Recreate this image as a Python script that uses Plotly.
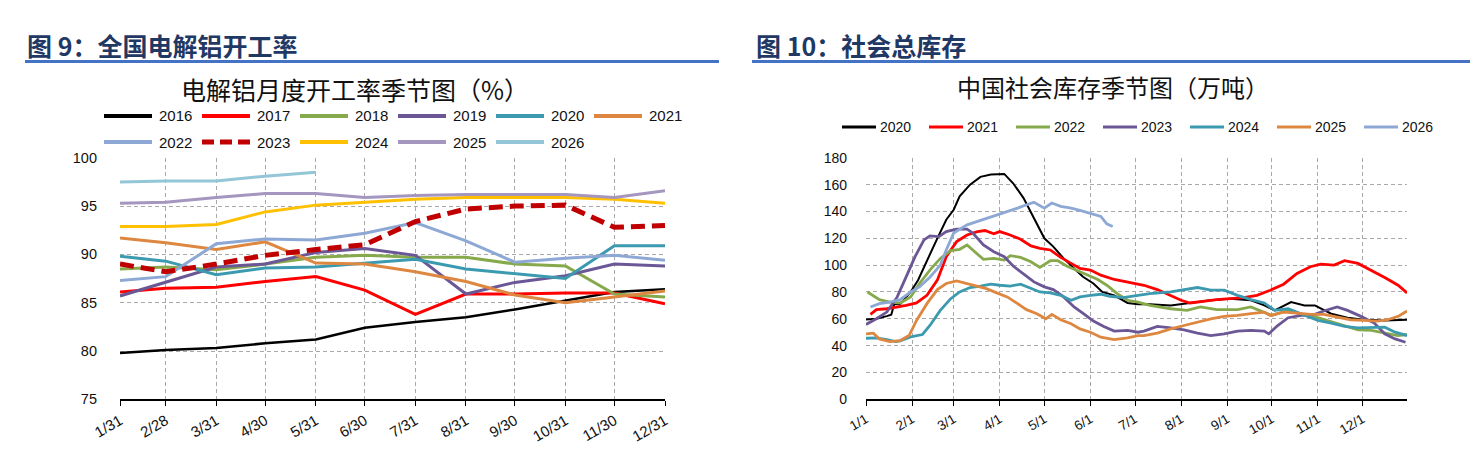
import plotly.graph_objects as go
import pandas as pd

W, H = 1470, 453

# ---------------- Left chart: monthly utilisation rate (%) ----------------
month_end_dates = ["2021-01-31", "2021-02-28", "2021-03-31", "2021-04-30", "2021-05-31", "2021-06-30",
                   "2021-07-31", "2021-08-31", "2021-09-30", "2021-10-31", "2021-11-30", "2021-12-31"]
month_end_labels = ["1/31", "2/28", "3/31", "4/30", "5/31", "6/30",
                    "7/31", "8/31", "9/30", "10/31", "11/30", "12/31"]

rate_2016 = [79.8, 80.1, 80.3, 80.8, 81.2, 82.4, 83.0, 83.5, 84.3, 85.2, 86.1, 86.4]
rate_2017 = [86.1, 86.5, 86.6, 87.2, 87.7, 86.3, 83.8, 85.9, 85.9, 86.0, 86.0, 84.9]
rate_2018 = [88.5, 88.7, 88.4, 89.0, 89.7, 89.9, 89.7, 89.7, 89.0, 88.8, 85.9, 85.6]
rate_2019 = [85.7, 87.1, 88.7, 89.0, 90.2, 90.6, 89.9, 85.9, 87.1, 87.8, 89.0, 88.8]
rate_2020 = [89.8, 89.3, 87.9, 88.6, 88.7, 89.1, 89.5, 88.5, 88.0, 87.5, 90.9, 90.9]
rate_2021 = [91.7, 91.2, 90.5, 91.3, 89.1, 89.0, 88.2, 87.2, 85.8, 85.0, 85.6, 86.2]
rate_2022 = [87.3, 87.7, 91.1, 91.6, 91.5, 92.2, 93.3, 91.4, 89.2, 89.6, 89.9, 89.4]
rate_2023 = [89.0, 88.2, 89.0, 89.9, 90.5, 91.0, 93.4, 94.7, 95.0, 95.1, 92.8, 93.0]
rate_2024 = [92.9, 92.9, 93.1, 94.4, 95.1, 95.4, 95.7, 95.9, 95.9, 95.9, 95.7, 95.3]
rate_2025 = [95.3, 95.4, 95.9, 96.3, 96.3, 95.9, 96.1, 96.2, 96.2, 96.2, 95.9, 96.6]
rate_2026 = [97.5, 97.6, 97.6, 98.1, 98.5]

left_years = ["2016", "2017", "2018", "2019", "2020", "2021", "2022", "2023", "2024", "2025", "2026"]
left_values = [rate_2016, rate_2017, rate_2018, rate_2019, rate_2020, rate_2021,
               rate_2022, rate_2023, rate_2024, rate_2025, rate_2026]
left_colors = ["#000000", "#FF0000", "#86A94C", "#6C5796", "#3C9AB0", "#DE8740",
               "#8DA8D4", "#C00000", "#FFC000", "#A496BE", "#93C6D7"]
left_widths = [2.5, 3, 3, 3, 3, 3, 3, 5, 3, 3, 3]
left_dash = ["solid"] * 7 + ["14px,7px"] + ["solid"] * 3

# ---------------- Right chart: social inventory (10k t) ----------------
month_start_dates = ["2021-%02d-01" % m for m in range(1, 13)]
month_start_labels = ["%d/1" % m for m in range(1, 13)]

days_2020 = [0, 7, 14, 17, 19, 23, 25, 30, 35, 41, 48, 54, 59, 63, 70, 77, 84, 93, 99, 106, 113, 120, 126,
             133, 140, 146, 153, 159, 167, 176, 183, 191, 205, 218, 232, 245, 259, 268, 275, 286, 295,
             302, 313, 324, 335, 349, 364]
inv_2020 = [59.5, 60, 62, 63, 71, 71, 73.5, 80, 88.8, 103.8, 120, 133.8, 141.3, 151.3, 160, 165.8, 167.5,
            168, 161, 150, 135, 120, 113.8, 105, 97.5, 91.3, 86.3, 80, 77.5, 71.8, 70.8, 70.8, 70, 71.8,
            73.8, 75, 73.8, 70, 66.3, 72.5, 70, 70, 63.8, 60.8, 59.3, 58.8, 59.3]

days_2021 = [3, 7, 14, 21, 27, 34, 41, 48, 54, 61, 68, 75, 80, 86, 90, 97, 104, 111, 117, 124, 131, 138,
             144, 151, 158, 167, 176, 183, 187, 196, 205, 212, 218, 227, 236, 245, 254, 263, 272, 281,
             290, 299, 306, 315, 322, 331, 340, 349, 358, 364]
inv_2021 = [63.3, 66.8, 67.5, 68.8, 70, 71.8, 77.5, 88.8, 106.3, 117.5, 122.5, 125, 125.8, 123.3, 125,
            122.5, 119.3, 114.3, 112.5, 111.3, 105.8, 101.3, 97.5, 96.3, 92.5, 89.3, 87.5, 85.8, 85,
            81.8, 77.5, 73.8, 71.8, 73.3, 74.3, 75, 75.8, 77.5, 81.3, 85.8, 93.8, 98.8, 100.8, 100,
            103.3, 101.3, 96.3, 90.8, 85, 79.3]

days_2022 = [1, 9, 16, 23, 30, 36, 43, 50, 57, 63, 68, 73, 79, 86, 93, 97, 104, 111, 117, 124, 129, 135,
             142, 149, 156, 162, 169, 176, 183, 191, 205, 216, 225, 236, 250, 259, 268, 273, 284, 295,
             304, 317, 331, 340, 349, 358, 364]
inv_2022 = [80, 74.3, 72.5, 71.8, 76.3, 86.3, 96.3, 105, 110.8, 111.8, 115, 110, 104.3, 105, 103.8, 107,
            105.8, 102.5, 98.3, 103.3, 103.3, 99.3, 95.8, 92.5, 89.3, 85, 78.8, 73.8, 72.5, 70, 67.5,
            66.3, 68.8, 66.8, 66.8, 68.8, 65, 62.5, 66.3, 62.5, 60.8, 56.3, 51.8, 51.3, 49.3, 47.5, 48.3]

days_2023 = [0, 7, 14, 21, 27, 33, 39, 43, 49, 54, 61, 68, 72, 79, 86, 93, 99, 106, 113, 120, 126, 133,
             140, 147, 153, 160, 167, 176, 183, 187, 196, 205, 214, 223, 232, 241, 250, 259, 268, 271,
             277, 284, 293, 302, 308, 317, 324, 333, 342, 349, 356, 363]
inv_2023 = [55.8, 60, 65, 76.3, 91.3, 106.3, 118.8, 121.8, 121.3, 125, 126.8, 126.8, 123.8, 115, 110,
            106.3, 99.3, 93.3, 87.5, 83.8, 81.8, 76.3, 68.8, 63.3, 58.3, 54.3, 50.8, 51.3, 50, 50.8,
            54.3, 53.3, 51.8, 49.3, 47.5, 48.8, 50.8, 51.3, 50.8, 48.8, 55, 60.8, 62.5, 63.3, 65.8,
            68.8, 66.3, 61.8, 56.8, 48.8, 45, 42.5]

days_2024 = [0, 7, 14, 20, 23, 30, 38, 43, 50, 57, 63, 70, 77, 84, 90, 97, 104, 111, 117, 124, 131, 138,
             144, 151, 158, 164, 173, 183, 191, 205, 214, 223, 232, 241, 250, 259, 268, 275, 284, 295,
             304, 313, 322, 331, 340, 349, 356, 364]
inv_2024 = [45.5, 45.8, 44.5, 43, 43.5, 46.5, 48.3, 55, 66.3, 75, 80, 83.3, 84.3, 85.8, 85, 84.3, 85.8,
            82.5, 80, 79.3, 77.5, 73.8, 76.3, 77.5, 78.3, 76.8, 75.8, 77.5, 78.8, 80, 81.8, 83.3, 81.3,
            81.3, 77.5, 74.3, 71.8, 66.3, 67.5, 62.5, 58.8, 56.8, 54.3, 53.3, 53.3, 53.8, 50, 47.5]

days_2025 = [0, 5, 9, 16, 23, 29, 34, 41, 48, 54, 61, 68, 75, 81, 88, 95, 102, 108, 115, 121, 125, 131,
             138, 144, 151, 158, 167, 176, 183, 187, 196, 205, 214, 223, 232, 241, 250, 259, 268, 272,
             281, 290, 299, 308, 317, 326, 335, 344, 351, 358, 364]
inv_2025 = [48.8, 49.3, 45, 43, 43.8, 47.5, 58.8, 71.3, 81.8, 86.3, 88.3, 86.3, 84.3, 82.5, 79.3, 76.3,
            71.3, 66.8, 63.8, 60, 63.3, 59.3, 56.3, 52.5, 50, 46.3, 44.5, 45.8, 47.5, 47.5, 49.3, 52.5,
            55, 57.5, 60, 61.8, 62.5, 63.8, 65, 62.5, 65, 64.3, 63.3, 63.3, 61.3, 59.3, 58.8, 58.3,
            59.3, 61.8, 65.8]

days_2026 = [3, 9, 16, 23, 30, 36, 43, 50, 54, 59, 68, 75, 81, 88, 95, 102, 108, 113, 120, 125, 131, 138,
             144, 151, 158, 162, 166]
inv_2026 = [68.8, 71.3, 72.5, 74.3, 80, 83.8, 91, 100, 111.3, 124, 130, 132.5, 134.5, 137, 140, 142.5,
            145, 146.8, 142.5, 146.3, 143.8, 142.5, 140.8, 138.8, 136.3, 130.8, 128.8]

right_years = ["2020", "2021", "2022", "2023", "2024", "2025", "2026"]
right_days = [days_2020, days_2021, days_2022, days_2023, days_2024, days_2025, days_2026]
right_values = [inv_2020, inv_2021, inv_2022, inv_2023, inv_2024, inv_2025, inv_2026]
right_colors = ["#000000", "#FF0000", "#86A94C", "#6C5796", "#3C9AB0", "#DE8740", "#8DA8D4"]
right_widths = [2, 2.8, 2.8, 2.8, 2.8, 2.8, 2.8]


def px(x):
    return x / W


def py(y):
    return 1 - y / H


fig = go.Figure()

for yr, vals, col, wd, ds in zip(left_years, left_values, left_colors, left_widths, left_dash):
    fig.add_trace(go.Scatter(x=month_end_dates[:len(vals)], y=vals, mode="lines", name=yr,
                             line=dict(color=col, width=wd, dash=ds), xaxis="x", yaxis="y",
                             showlegend=False, hoverinfo="skip"))

base = pd.Timestamp("2021-01-01")
for yr, dd, vals, col, wd in zip(right_years, right_days, right_values, right_colors, right_widths):
    dates = base + pd.to_timedelta(dd, unit="D")
    fig.add_trace(go.Scatter(x=dates, y=vals, mode="lines", name=yr,
                             line=dict(color=col, width=wd), xaxis="x2", yaxis="y2",
                             showlegend=False, hoverinfo="skip"))

grid = dict(showgrid=True, gridcolor="#A9A9A9", gridwidth=1, griddash="4px,3px", automargin=False)
num_font = "Liberation Sans, Arial, sans-serif"
cjk_font = "Noto Sans CJK SC, sans-serif"

y_dom = [py(399.3), py(157.8)]

fig.update_layout(
    width=W, height=H, margin=dict(l=0, r=0, t=0, b=0, autoexpand=False),
    paper_bgcolor="white", plot_bgcolor="white",
    xaxis=dict(domain=[px(120), px(665)], type="date",
               range=["2021-01-31", "2021-12-31"],
               tickmode="array", tickvals=month_end_dates, ticktext=month_end_labels,
               tickangle=-30, tickfont=dict(family=num_font, size=15, color="#111"),
               ticks="outside", ticklen=5, tickcolor="#000", showline=True, linecolor="#000",
               linewidth=2, anchor="y", **grid),
    yaxis=dict(domain=y_dom, range=[75, 100], dtick=5, tick0=75,
               tickfont=dict(family=num_font, size=14.5, color="#111"),
               ticks="", ticklabelstandoff=22, showline=False, zeroline=False, anchor="x", **grid),
    xaxis2=dict(domain=[px(866), px(1407)], type="date",
                range=["2021-01-01", "2021-12-31"],
                tickmode="array", tickvals=month_start_dates, ticktext=month_start_labels,
                tickangle=-30, tickfont=dict(family=num_font, size=13.5, color="#111"),
                ticks="outside", ticklen=5, tickcolor="#000", showline=True, linecolor="#000",
                linewidth=2, anchor="y2", **grid),
    yaxis2=dict(domain=y_dom, range=[0, 180], dtick=20, tick0=0,
                tickfont=dict(family=num_font, size=14, color="#111"),
                ticks="", ticklabelstandoff=18, showline=False, zeroline=False, anchor="x2", **grid),
)

shapes = []
annotations = []

# section headers with blue rules
annotations.append(dict(text="<b>图 9：全国电解铝开工率</b>", x=px(25), y=py(45), xref="paper", yref="paper",
                        xanchor="left", yanchor="middle", showarrow=False,
                        font=dict(family=cjk_font, size=25, color="#1F3864")))
annotations.append(dict(text="<b>图 10：社会总库存</b>", x=px(754), y=py(45), xref="paper", yref="paper",
                        xanchor="left", yanchor="middle", showarrow=False,
                        font=dict(family=cjk_font, size=25, color="#1F3864")))
shapes.append(dict(type="line", xref="paper", yref="paper", x0=px(25), x1=px(719), y0=py(61.5), y1=py(61.5),
                   line=dict(color="#4472C4", width=3)))
shapes.append(dict(type="line", xref="paper", yref="paper", x0=px(752), x1=px(1470), y0=py(61.5), y1=py(61.5),
                   line=dict(color="#4472C4", width=3)))

# chart titles
annotations.append(dict(text="电解铝月度开工率季节图（%）", x=px(355), y=py(89), xref="paper", yref="paper",
                        xanchor="center", yanchor="middle", showarrow=False,
                        font=dict(family=cjk_font, size=25, color="#111")))
annotations.append(dict(text="中国社会库存季节图（万吨）", x=px(1113), y=py(87), xref="paper", yref="paper",
                        xanchor="center", yanchor="middle", showarrow=False,
                        font=dict(family=cjk_font, size=24, color="#111")))

# left legend (two rows)
for i, (yr, col, ds) in enumerate(zip(left_years, left_colors, left_dash)):
    row, colno = divmod(i, 6)
    x0 = 104 + colno * 98
    yy = 116 + row * 26
    shapes.append(dict(type="line", xref="paper", yref="paper", x0=px(x0), x1=px(x0 + 48),
                       y0=py(yy), y1=py(yy),
                       line=dict(color=col, width=5 if ds != "solid" else 4,
                                 dash="12px,6px" if ds != "solid" else "solid")))
    annotations.append(dict(text=yr, x=px(x0 + 53), y=py(yy), xref="paper", yref="paper",
                            xanchor="left", yanchor="middle", showarrow=False,
                            font=dict(family=num_font, size=15, color="#111")))

# right legend (one row)
for i, (yr, col) in enumerate(zip(right_years, right_colors)):
    x0 = 842 + i * 87
    yy = 127
    shapes.append(dict(type="line", xref="paper", yref="paper", x0=px(x0), x1=px(x0 + 34),
                       y0=py(yy), y1=py(yy), line=dict(color=col, width=3)))
    annotations.append(dict(text=yr, x=px(x0 + 36), y=py(yy), xref="paper", yref="paper",
                            xanchor="left", yanchor="middle", showarrow=False,
                            font=dict(family=num_font, size=14, color="#111")))

fig.update_layout(shapes=shapes, annotations=annotations)
fig.write_html("out.html")
